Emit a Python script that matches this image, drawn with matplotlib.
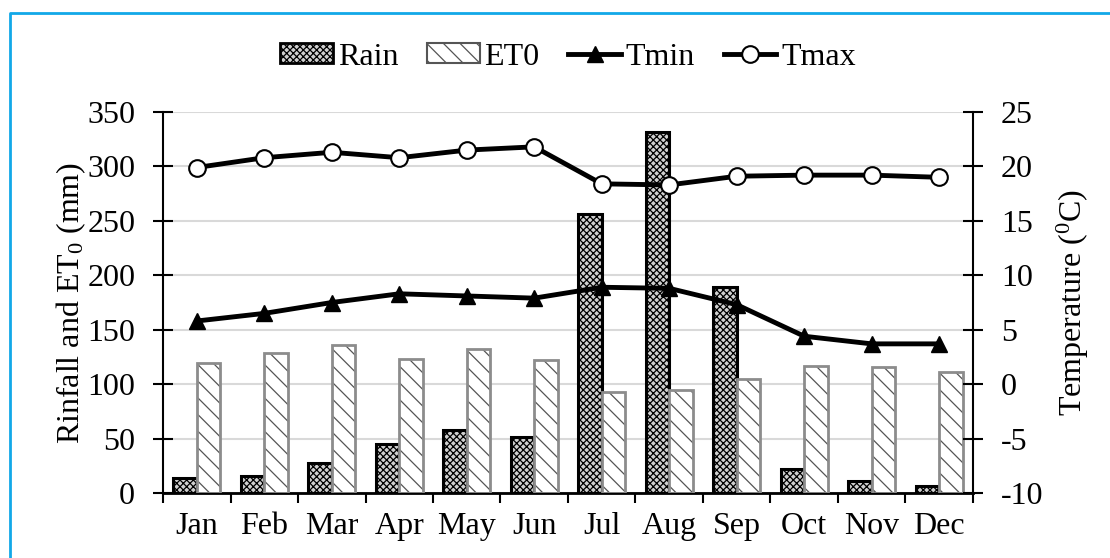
import numpy as np
import matplotlib
matplotlib.use('Agg')
import matplotlib.pyplot as plt
from matplotlib.patches import Patch
from matplotlib.lines import Line2D

months = ['Jan', 'Feb', 'Mar', 'Apr', 'May', 'Jun', 'Jul', 'Aug', 'Sep', 'Oct', 'Nov', 'Dec']
rain = [14, 16, 28, 45, 58, 51, 256, 332, 189, 22, 11, 6]
et0 = [119, 129, 136, 123, 132, 122, 93, 95, 105, 117, 116, 111]
tmin = [5.8, 6.5, 7.5, 8.3, 8.1, 7.9, 8.9, 8.8, 7.3, 4.4, 3.7, 3.7]
tmax = [19.9, 20.8, 21.3, 20.8, 21.5, 21.8, 18.4, 18.3, 19.1, 19.2, 19.2, 19.0]

plt.rcParams['font.family'] = ['Liberation Serif', 'DejaVu Serif']
plt.rcParams['mathtext.fontset'] = 'custom'
plt.rcParams['mathtext.rm'] = 'Liberation Serif'
plt.rcParams['mathtext.it'] = 'Liberation Serif:italic'
plt.rcParams['axes.unicode_minus'] = False
plt.rcParams['hatch.linewidth'] = 0.9
fs = 23

fig = plt.figure(figsize=(11.1, 5.58), dpi=100)
W, H = 1110, 558
ax = fig.add_axes([163 / W, 1 - 493 / H, 810 / W, 381 / H])

x = np.arange(len(months))
w = 0.345

# bars
ax.bar(x - w / 2, rain, w, facecolor='#d0d0d0', edgecolor='black', hatch='xxxxx', linewidth=2.2, zorder=2)
ax.bar(x + w / 2, et0, w, facecolor='white', edgecolor='#555555', hatch='\\\\', linewidth=0, zorder=2)
ax.bar(x + w / 2, et0, w, facecolor='none', edgecolor='#8c8c8c', linewidth=2, zorder=3)

ax.set_xlim(-0.5, 11.5)
ax.set_ylim(0, 350)
ax.set_yticks(range(0, 351, 50))
ax.grid(axis='y', color='#d9d9d9', linewidth=1.5, zorder=0)
ax.set_axisbelow(True)

ax.set_xticks(np.arange(-0.5, 12, 1))
ax.set_xticklabels([])
ax.set_xticks(x, minor=True)
ax.set_xticklabels(months, minor=True, fontsize=fs)
ax.tick_params(axis='x', which='major', direction='out', length=7, width=1.5)
ax.tick_params(axis='x', which='minor', length=0, pad=14)
ax.tick_params(axis='y', direction='inout', length=14, width=1.5, labelsize=fs, pad=13)

for s in ['top', 'right']:
    ax.spines[s].set_visible(False)
ax.spines['left'].set_linewidth(1.5)
ax.spines['bottom'].set_linewidth(2)

ax.set_ylabel('Rinfall and ET$_0$ (mm)', fontsize=fs)
ax.yaxis.set_label_coords(-0.093, 0.5)

# temperature lines
ax2 = ax.twinx()
ax2.plot(x, tmin, color='black', linewidth=3.5, marker='^', markersize=12, zorder=4)
ax2.plot(x, tmax, color='black', linewidth=3.5, marker='o', markersize=12,
         markerfacecolor='white', markeredgecolor='black', markeredgewidth=1.5, zorder=4)
ax2.set_ylim(-10, 25)
ax2.set_yticks(range(-10, 26, 5))
ax2.tick_params(axis='y', direction='inout', length=14, width=1.5, labelsize=fs, pad=13)
for s in ['top', 'left', 'bottom']:
    ax2.spines[s].set_visible(False)
ax2.spines['right'].set_linewidth(1.5)
ax2.set_ylabel('Temperature ($^0$C)', fontsize=fs)
ax2.yaxis.set_label_coords(1.101, 0.5)

handles = [
    Patch(facecolor='#d0d0d0', edgecolor='black', hatch='xxxxx', linewidth=2),
    Patch(facecolor='white', edgecolor='#555555', hatch='\\\\', linewidth=1.5),
    Line2D([], [], color='black', linewidth=3.5, marker='^', markersize=12),
    Line2D([], [], color='black', linewidth=3.5, marker='o', markersize=12,
           markerfacecolor='white', markeredgewidth=1.5),
]
fig.legend(handles, ['Rain', 'ET0', 'Tmin', 'Tmax'], loc='center',
           bbox_to_anchor=(568 / W, 1 - 57 / H), ncol=4, frameon=False, fontsize=fs,
           handlelength=1.65, handleheight=0.6, handletextpad=0.15, columnspacing=0.9)

# blue frame
fig.add_artist(Line2D([10 / W, 10 / W, 1.0], [0.0, 1 - 13 / H, 1 - 13 / H],
                      transform=fig.transFigure, color='#12a8e8', linewidth=2))

fig.savefig('out.png', dpi=100)
